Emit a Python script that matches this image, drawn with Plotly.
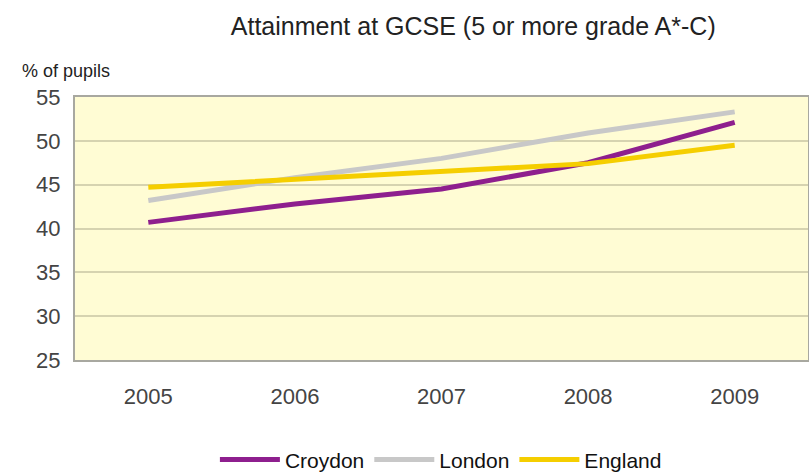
import plotly.graph_objects as go

years = ["2005", "2006", "2007", "2008", "2009"]
croydon = [40.7, 42.8, 44.5, 47.5, 52.1]
london = [43.2, 45.8, 48.0, 50.9, 53.3]
england = [44.7, 45.6, 46.4, 47.4, 49.5]
y_ticks = [25, 30, 35, 40, 45, 50, 55]

font_family = "Liberation Sans, Arial, sans-serif"

fig = go.Figure()
series = [
    ("Croydon", croydon, "#8E1F8E"),
    ("London", london, "#C8C8C8"),
    ("England", england, "#F5CE00"),
]
for name, vals, color in series:
    fig.add_trace(go.Scatter(
        x=years, y=vals, name=name, mode="lines",
        line=dict(color=color, width=5),
    ))

fig.update_layout(
    width=809, height=473,
    margin=dict(l=75, r=1, t=97, b=113),
    paper_bgcolor="white",
    plot_bgcolor="#FFFCD4",
    font=dict(family=font_family, color="#444444"),
    title=dict(
        text="Attainment at GCSE (5 or more grade A*-C)",
        x=0.585, xanchor="center", y=0.945, yanchor="middle",
        font=dict(size=25, color="#222222", family=font_family),
    ),
    showlegend=True,
    legend=dict(
        orientation="h", xref="container", yref="container",
        x=0.545, xanchor="center", y=0.028, yanchor="middle",
        font=dict(size=21, color="#111111", family=font_family),
        itemwidth=60, traceorder="normal",
    ),
    annotations=[dict(
        text="% of pupils", xref="paper", yref="paper",
        x=-0.075, y=1.1, xanchor="left", yanchor="middle", showarrow=False,
        font=dict(size=18, color="#222222", family=font_family),
    )],
)
fig.update_xaxes(
    type="category", range=[-0.5, 4.5], automargin=False,
    showgrid=False, showline=True, linecolor="#A8A8A0", linewidth=2, mirror=True,
    ticks="", tickfont=dict(size=22, color="#444444"), ticklabelstandoff=16,
)
fig.update_yaxes(
    range=[25, 55], tickvals=y_ticks, automargin=False,
    showgrid=True, gridcolor="#D6D3B0", gridwidth=2,
    showline=True, linecolor="#A8A8A0", linewidth=2, mirror=True,
    ticks="", tickfont=dict(size=22, color="#444444"), zeroline=False,
    ticklabelstandoff=8,
)

fig.write_html("out.html")
